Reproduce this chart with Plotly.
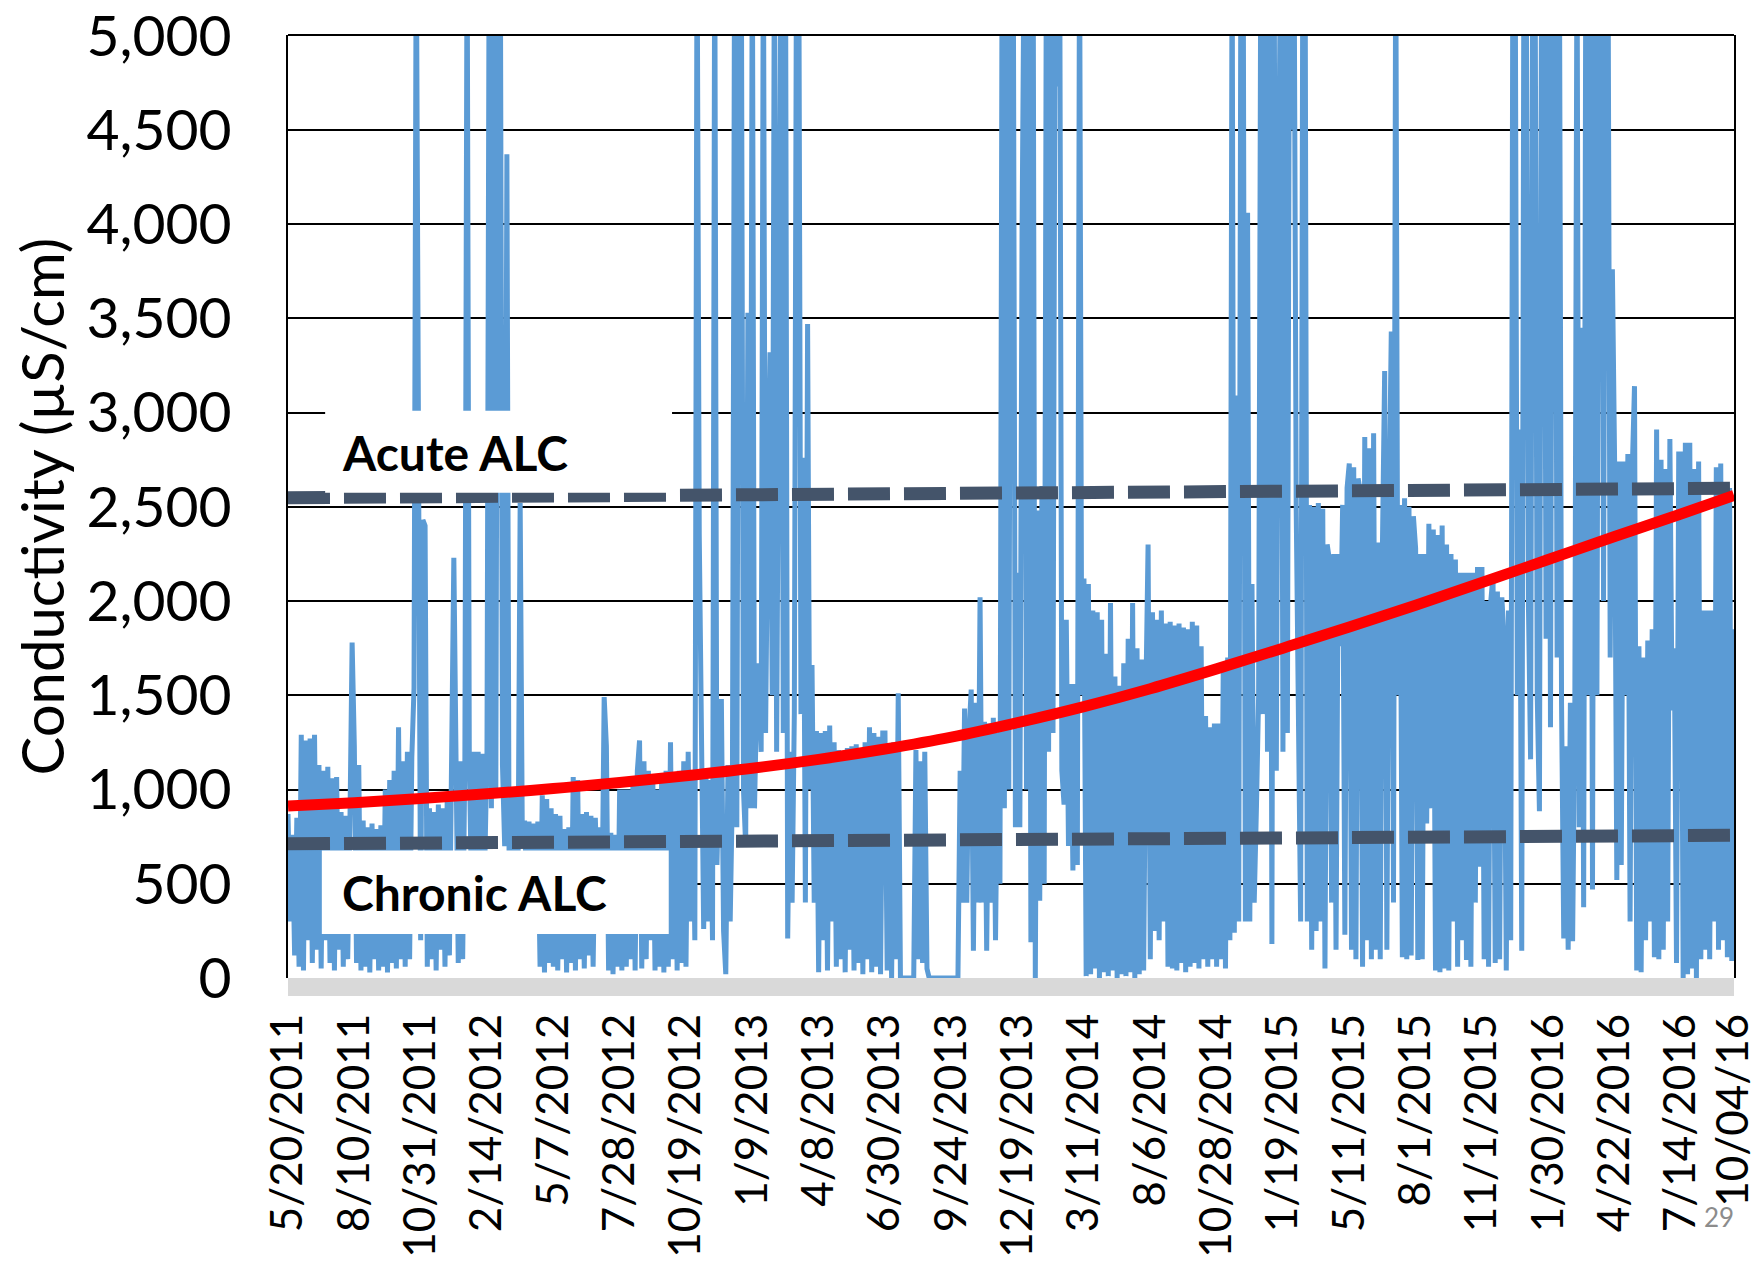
import plotly.graph_objects as go

# ---------------- data ----------------
tick_labels = ["5/20/2011", "8/10/2011", "10/31/2011", "2/14/2012", "5/7/2012",
               "7/28/2012", "10/19/2012", "1/9/2013", "4/8/2013", "6/30/2013",
               "9/24/2013", "12/19/2013", "3/11/2014", "8/6/2014", "10/28/2014",
               "1/19/2015", "5/11/2015", "8/1/2015", "11/1/2015", "1/30/2016",
               "4/22/2016", "7/14/2016", "10/04/16"]

samples_per_label = 30

conductivity = [
    # 5/20/2011 ->
    870, 300, 760, 120, 850, 60, 1290, 40, 1260, 200, 1270, 80, 1290, 150, 1130,
    50, 1100, 200, 1120, 80, 1060, 40, 1066, 150, 880, 60, 860, 100, 820, 1780,
    # 8/10/2011 ->
    1230, 80, 1130, 40, 835, 60, 800, 30, 820, 100, 790, 40, 810, 60, 1000,
    30, 1050, 80, 1100, 50, 1330, 100, 1150, 60, 1200, 100, 1170, 1540, 5600, 3100,
    # 10/31/2011 ->
    200, 2430, 2400, 60, 900, 100, 880, 40, 920, 150, 900, 60, 940, 120, 1200,
    2230, 1160, 80, 1150, 100, 1160, 5600, 1160, 450, 1200, 500, 1200, 400, 1190, 600,
    # 2/14/2012 ->
    1200, 5600, 900, 5600, 1000, 5600, 5600, 1130, 700, 4370, 600, 1000, 500, 1000, 450,
    2520, 700, 835, 450, 830, 500, 820, 300, 830, 60, 970, 30, 950, 80, 900,
    # 5/7/2012 ->
    60, 870, 40, 860, 100, 790, 30, 800, 80, 1066, 40, 1050, 100, 870, 50,
    880, 120, 860, 60, 850, 400, 800, 350, 1490, 1230, 40, 770, 20, 760, 60,
    # 7/28/2012 ->
    1000, 40, 1000, 60, 1000, 100, 1020, 40, 1100, 1260, 50, 1150, 100, 1100, 200,
    1050, 40, 1000, 60, 1050, 30, 1100, 60, 1250, 100, 1050, 40, 1100, 80, 1150,
    # 10/19/2012 ->
    60, 1200, 300, 1100, 200, 5600, 2350, 1230, 260, 1100, 300, 1050, 200, 5600, 600,
    1100, 1480, 250, 20, 1130, 300, 1000, 5600, 800, 5600, 5600, 1000, 700, 3530, 900,
    # 1/9/2013 ->
    5600, 900, 1500, 1670, 1200, 5600, 1300, 2500, 3320, 1500, 5600, 1200, 3700, 5600, 1300,
    5600, 210, 1200, 400, 1400, 5600, 5600, 1400, 2760, 400, 3470, 1000, 1660, 400, 1310,
    # 4/8/2013 ->
    30, 1300, 200, 1310, 40, 1340, 300, 1250, 60, 1210, 100, 1200, 30, 1220, 150,
    1230, 40, 1240, 80, 1200, 20, 1250, 100, 1330, 30, 1300, 60, 1280, 20, 1300,
    # 6/30/2013 ->
    1300, 40, 1200, 0, 1250, 100, 1510, 0, 0, 0, 0, 0, 0, 0, 1210,
    100, 1150, 80, 1200, 50, 0, 0, 0, 0, 0, 0, 0, 0, 0, 0,
    # 9/24/2013 ->
    0, 0, 0, 0, 1100, 400, 1430, 400, 1300, 1530, 145, 1460, 400, 2020, 400,
    1360, 145, 1350, 400, 1380, 200, 1300, 500, 5600, 900, 5600, 1000, 5600, 5600, 800,
    # 12/19/2013 ->
    2150, 800, 3960, 5600, 1000, 5600, 190, 5600, 0, 2480, 410, 2610, 500, 5600, 1200,
    5600, 1300, 5600, 4730, 5600, 1100, 920, 1900, 700, 1560, 570, 1560, 600, 5600, 1500,
    # 3/11/2014 ->
    2120, 10, 2090, 20, 1950, 50, 1940, 0, 1900, 30, 1720, 10, 1990, 40, 1600,
    0, 1550, 20, 1670, 10, 1800, 30, 1990, 0, 1750, 20, 1690, 40, 1500, 2300,
    # 8/6/2014 ->
    100, 1940, 250, 1900, 200, 1950, 300, 1880, 60, 1890, 50, 1870, 40, 1880, 80,
    1860, 30, 1850, 60, 1890, 80, 1870, 50, 1760, 100, 1390, 60, 1330, 100, 1350,
    # 10/28/2014 ->
    60, 1350, 100, 1660, 50, 1700, 200, 5600, 240, 3090, 300, 5600, 5600, 300, 4060,
    300, 2090, 400, 900, 1500, 5600, 1400, 5600, 1200, 5600, 180, 5600, 1100, 4110, 5600,
    # 1/19/2015 ->
    1200, 5600, 1300, 5600, 4500, 5600, 2480, 1000, 300, 5600, 5600, 300, 2510, 150, 2500,
    250, 2520, 300, 2490, 50, 2300, 2220, 400, 2250, 150, 2250, 1760, 2510, 230, 2600,
    # 5/11/2015 ->
    2730, 150, 2710, 100, 2650, 2580, 60, 2870, 200, 2810, 100, 2890, 150, 2310, 100,
    2300, 3220, 150, 2500, 3430, 400, 5600, 1500, 2510, 110, 2545, 100, 2500, 120, 2450,
    # 8/1/2015 ->
    2280, 95, 2250, 100, 2250, 820, 2410, 900, 2380, 40, 2350, 30, 2400, 50, 2300,
    40, 2250, 300, 2220, 60, 2150, 200, 2150, 95, 2150, 60, 2150, 400, 2180, 590,
    # 11/1/2015 ->
    2180, 100, 2000, 60, 2000, 2135, 80, 2050, 100, 2020, 1800, 40, 1950, 200, 5600,
    5600, 1500, 2910, 145, 5600, 5600, 2000, 1160, 5600, 5600, 1500, 885, 5600, 5600, 1800,
    # 1/30/2016 ->
    5600, 1330, 5600, 5600, 1700, 5600, 1460, 210, 1230, 150, 1460, 195, 1400, 5600, 800,
    3450, 375, 5600, 1500, 5600, 470, 5600, 1500, 5600, 5600, 2000, 5600, 5600, 1700, 3760,
    # 4/22/2016 ->
    2740, 520, 2740, 600, 2740, 1500, 2780, 300, 2700, 3140, 40, 1760, 30, 1700, 200,
    1790, 300, 1850, 110, 2910, 100, 2750, 150, 2700, 300, 2860, 1420, 1750, 80, 2780,
    # 7/14/2016 -> 10/04/16
    2780, 0, 2840, 20, 2840, 50, 2700, 0, 2740, 100, 1950, 150, 1950, 100, 1950,
    300, 2710, 150, 2730, 200, 2550, 110, 2600, 90, 1850,
]

# polynomial trend read at every tick label
trend_values = [912, 930, 952, 977, 1005, 1037, 1073, 1113, 1160, 1215, 1278, 1355,
                1440, 1535, 1640, 1750, 1862, 1978, 2098, 2220, 2342, 2462, 2560]

acute_alc = [2548, 2598]
chronic_alc = [712, 757]

# ---------------- positions (category index) ----------------
n = len(conductivity)
x_samples = [i / samples_per_label for i in range(n)]
x_last = (n - 1) / samples_per_label
tick_positions = list(range(len(tick_labels) - 1)) + [x_last]

FONT = "Lato"
PLOT_W = 1446  # px width of plotting area
PLOT_H = 943   # px height of plotting area

fig = go.Figure()

fig.add_trace(go.Scatter(
    x=x_samples, y=conductivity, mode="lines",
    line=dict(color="#5B9BD5", width=5), hoverinfo="skip", showlegend=False))

fig.add_trace(go.Scatter(
    x=[0, x_last], y=acute_alc, mode="lines",
    line=dict(color="#44546A", width=13, dash="42px,14px"), showlegend=False))
fig.add_trace(go.Scatter(
    x=[0, x_last], y=chronic_alc, mode="lines",
    line=dict(color="#44546A", width=13, dash="42px,14px"), showlegend=False))

fig.add_trace(go.Scatter(
    x=tick_positions, y=trend_values, mode="lines",
    line=dict(color="#FF0000", width=11, shape="spline"), showlegend=False))

# white label boxes covering the data
fig.add_shape(type="rect", xref="x", yref="y", x0=0.56, x1=5.79, y0=2575, y1=3010,
              fillcolor="white", line=dict(width=0), layer="above")
fig.add_shape(type="rect", xref="x", yref="y", x0=0.51, x1=5.74, y0=233, y1=676,
              fillcolor="white", line=dict(width=0), layer="above")

# grey horizontal axis band under the plot
fig.add_shape(type="rect", xref="paper", yref="paper", x0=0, x1=1, y0=0, y1=-18 / PLOT_H,
              fillcolor="#D9D9D9", line=dict(width=0), layer="below")
# top frame line
fig.add_shape(type="line", xref="paper", yref="paper", x0=0, x1=1, y0=1, y1=1,
              line=dict(color="black", width=2), layer="above")

fig.add_annotation(x=0.79, y=2788, xref="x", yref="y", text="<b>Acute ALC</b>",
                   showarrow=False, xanchor="left", yanchor="middle",
                   font=dict(family=FONT, size=48, color="black"))
fig.add_annotation(x=0.78, y=455, xref="x", yref="y", text="<b>Chronic ALC</b>",
                   showarrow=False, xanchor="left", yanchor="middle",
                   font=dict(family=FONT, size=48, color="black"))

# y axis title
fig.add_annotation(x=(41 - 288) / PLOT_W, y=0.5, xref="paper", yref="paper",
                   text="Conductivity (µS/cm)", textangle=-90, showarrow=False,
                   xanchor="center", yanchor="middle",
                   font=dict(family=FONT, size=58, color="black"))

fig.add_annotation(x=0.9896, y=-0.2534, xref="paper", yref="paper", text="29",
                   showarrow=False, xanchor="center", yanchor="middle",
                   font=dict(family=FONT, size=26, color="#8C8C8C"))

fig.update_layout(
    width=1762, height=1266,
    margin=dict(l=288, r=28, t=35, b=288),
    paper_bgcolor="white", plot_bgcolor="white",
    font=dict(family=FONT, color="black"),
    showlegend=False,
)

fig.update_xaxes(
    range=[0, x_last], tickmode="array", tickvals=tick_positions, ticktext=tick_labels,
    tickangle=-90, tickfont=dict(family=FONT, size=44, color="black"),
    showgrid=False, zeroline=False, ticks="", showline=False,
    ticklabelstandoff=26, automargin=False, ticklabeloverflow="allow",
)

fig.update_yaxes(
    range=[0, 5003], tick0=0, dtick=500, tickformat=",d",
    tickfont=dict(family=FONT, size=57, color="black"),
    showgrid=True, gridcolor="black", gridwidth=1.5, zeroline=False,
    showline=True, linecolor="black", linewidth=2, mirror=True, ticks="",
    ticklabelstandoff=43, automargin=False, ticklabeloverflow="allow",
)

fig.write_html("out.html")
